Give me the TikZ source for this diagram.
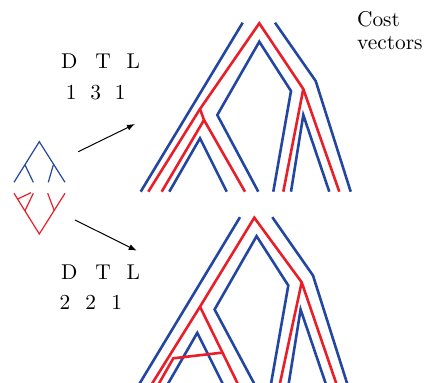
\documentclass[tikz,border=0pt]{standalone}
\usepackage{tikz}
\usetikzlibrary{arrows.meta}
\definecolor{spblue}{RGB}{35,70,160}
\definecolor{genered}{RGB}{232,30,40}

\begin{document}
\begin{tikzpicture}[x=0.5pt, y=-0.5pt,
    tube/.style={spblue, line width=1.3pt},
    gene/.style={genered, line width=1.3pt},
    smalltube/.style={spblue, line width=0.6pt},
    smallgene/.style={genered, line width=0.6pt},
    arr/.style={-{Latex[length=4pt, width=3pt]}, line width=0.5pt, black},
    lbl/.style={inner sep=0pt, anchor=base west, font=\fontsize{10.7}{11.3}\selectfont}
]
    \useasboundingbox (0,0) rectangle (425,383);
    \clip (0,0) rectangle (425,383);

    % small species tree and gene tree
    \draw[smalltube] (14,182.3) -- (39.3,141.7) -- (65,182.3);
    \draw[smalltube] (25,165) -- (33.3,182.3);
    \draw[smalltube] (53.3,165) -- (48.3,182.3);
    \draw[smallgene] (14,193.3) -- (39.3,234) -- (65,193.3);
    \draw[smallgene] (25,210.7) -- (33.3,193.3);
    \draw[smallgene] (54.3,210.7) -- (47.7,193.3);
    \draw[smallgene] (17.7,199) -- (31,192.7);

    \coordinate (srcA) at (78.3,151.7);
    \coordinate (dstA) at (135,124);
    \coordinate (srcB) at (75,220);
    \coordinate (dstB) at (136.7,250.7);
    \draw[arr] (srcA) -- (dstA);
    \draw[arr] (srcB) -- (dstB);

    % species tree tubes
    \foreach \dx/\dy in {0/0, -2.7/194.5} {
      \begin{scope}[shift={(\dx,\dy)}]
        \draw[tube] (140.7,191.7) -- (242.7,22.7);
        \draw[tube] (169.3,191.7) -- (200,138.3) -- (226.7,191.7);
        \draw[tube] (258.3,191.7) -- (217.3,115) -- (259.3,41.7) -- (291,91) -- (273.3,191.7);
        \draw[tube] (291,191.7) -- (303.3,115) -- (329.3,191.7);
        \draw[tube] (275,22.7) -- (315.7,81) -- (350.7,191.7);
      \end{scope}
    }

    % gene tree, top
    \draw[gene] (148.3,191.7) -- (200,109) -- (259.3,23.3) -- (303.3,89) -- (339.3,191.7);
    \draw[gene] (200,109) -- (204,120) -- (245,191.7);
    \draw[gene] (204,120) -- (161.7,191.7);
    \draw[gene] (303.3,89) -- (283.3,191.7);

    % gene tree, bottom
    \begin{scope}[shift={(-2.7,194.5)}]
      \draw[gene] (153,192) -- (202.7,112.2) -- (257,23.2) -- (304.4,87.8) -- (340,192);
      \draw[gene] (202.7,112.2) -- (241.8,192);
      \draw[gene] (224.4,158.2) -- (176,163.8) -- (160,192);
      \draw[gene] (304.4,87.8) -- (282,192);
    \end{scope}

    \node[lbl] (dtlA) at (60.7,69) {D\hspace{9pt}T\hspace{7.9pt}L};
    \node[lbl] (numA) at (65.5,100) {1\hspace{6.9pt}3\hspace{6.9pt}1};
    \node[lbl] (dtlB) at (60.7,279.3) {D\hspace{9pt}T\hspace{7.9pt}L};
    \node[lbl] (numB) at (59.2,310) {2\hspace{7.6pt}2\hspace{7.6pt}1};
    \node[lbl, align=left] (costvec) at (356.7,49.5) {Cost\\vectors};
\end{tikzpicture}
\end{document}
